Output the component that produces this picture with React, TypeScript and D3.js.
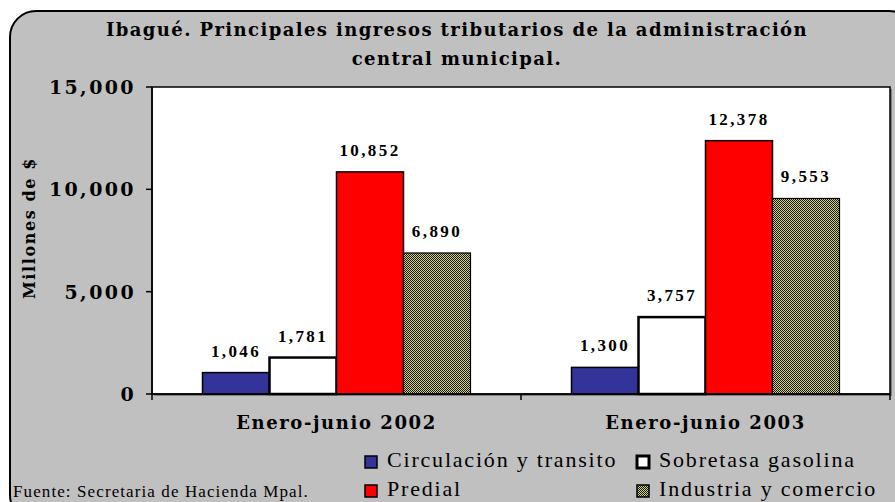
import React from "react";
import * as d3 from "d3";

const categories = ["Enero-junio 2002", "Enero-junio 2003"];
const seriesNames = ["Circulación y transito", "Sobretasa gasolina", "Predial", "Industria y comercio"];
const circulacion = [1046, 1300];
const sobretasa = [1781, 3757];
const predial = [10852, 12378];
const industria = [6890, 9553];
const yTicks = [0, 5000, 10000, 15000];
const titleLines = ["Ibagué. Principales ingresos tributarios de la administración", "central municipal."];
const yTitle = "Millones de $";
const source = "Fuente: Secretaria de Hacienda Mpal.";

const seriesValues = [circulacion, sobretasa, predial, industria];
const fills = ["#333399", "#FFFFFF", "#FF0000", "url(#hatch)"];
const strokeW = [1.5, 2.5, 1.5, 1.2];

const W = 895, H = 502;
const plot = { left: 152, right: 890, top: 87, bottom: 394 };
const serif = "DejaVu Serif, serif";
const times = "Liberation Serif, Times New Roman, serif";

export default function App() {
  const x0 = d3.scaleBand<string>().domain(categories).range([plot.left, plot.right]).paddingInner(0).paddingOuter(0);
  const x1 = d3.scaleBand<string>().domain(seriesNames).range([0, x0.bandwidth()]).paddingInner(0).paddingOuter(0.754);
  const y = d3.scaleLinear().domain([0, 15000]).range([plot.bottom, plot.top]);
  const fmt = d3.format(",");

  const legendItems = [
    { i: 0, x: 365, y: 467 },
    { i: 1, x: 637, y: 467 },
    { i: 2, x: 365, y: 496 },
    { i: 3, x: 637, y: 496 },
  ];

  return (
    <div style={{ position: "fixed", left: 0, top: 0 }}>
      <svg width={W} height={H} style={{ display: "block" }}>
        <defs>
          <pattern id="hatch" width="2" height="2" patternUnits="userSpaceOnUse">
            <rect width="2" height="2" fill="#d0d088" />
            <rect width="1" height="1" fill="#1a1a1a" />
            <rect x="1" y="1" width="1" height="1" fill="#1a1a1a" />
          </pattern>
        </defs>
        <rect x={0} y={0} width={W} height={H} fill="#ffffff" />
        <rect x={10} y={11} width={905} height={510} rx={26} ry={26} fill="#C0C0C0" stroke="#000" strokeWidth={2} />
        {/* title */}
        {titleLines.map((t, i) => (
          <text key={i} x={457} y={36 + i * 29} textAnchor="middle" fontFamily={serif} fontWeight="bold" fontSize={18} letterSpacing={1.4} fill="#000">
            {t}
          </text>
        ))}
        {/* plot area */}
        <rect x={plot.left + 2} y={plot.top + 2} width={plot.right - plot.left} height={plot.bottom - plot.top} fill="#808080" />
        <rect x={plot.left} y={plot.top} width={plot.right - plot.left} height={plot.bottom - plot.top} fill="#fff" stroke="#000" strokeWidth={1.5} />
        {/* bars */}
        {categories.map((c, ci) => (
          <g key={c}>
            {seriesNames.map((s, si) => {
              const v = seriesValues[si][ci];
              const bx = (x0(c) as number) + (x1(s) as number);
              const bw = x1.bandwidth();
              const by = y(v);
              return (
                <g key={s}>
                  <rect x={bx} y={by} width={bw} height={y(0) - by} fill={fills[si]} stroke="#000" strokeWidth={strokeW[si]} />
                  <text x={bx + bw / 2} y={by - 16} textAnchor="middle" fontFamily={times} fontWeight="bold" fontSize={17} letterSpacing={2.4} fill="#000">
                    {fmt(v)}
                  </text>
                </g>
              );
            })}
          </g>
        ))}
        {/* y axis */}
        <line x1={plot.left} x2={plot.left} y1={plot.top} y2={plot.bottom} stroke="#000" strokeWidth={1.5} />
        {yTicks.map((t) => (
          <g key={t}>
            <line x1={plot.left - 6} x2={plot.left} y1={y(t)} y2={y(t)} stroke="#000" strokeWidth={1.5} />
            <text x={plot.left - 16} y={y(t) + 7} textAnchor="end" fontFamily={serif} fontWeight="bold" fontSize={19} letterSpacing={2.4} fill="#000">
              {fmt(t)}
            </text>
          </g>
        ))}
        {/* x axis */}
        <line x1={plot.left} x2={plot.right} y1={plot.bottom} y2={plot.bottom} stroke="#000" strokeWidth={1.5} />
        {[plot.left, ...categories.map((c) => (x0(c) as number) + x0.bandwidth())].map((tx, i) => (
          <line key={i} x1={tx} x2={tx} y1={plot.bottom} y2={plot.bottom + 6} stroke="#000" strokeWidth={1.5} />
        ))}
        {categories.map((c) => (
          <text key={c} x={(x0(c) as number) + x0.bandwidth() / 2} y={429} textAnchor="middle" fontFamily={serif} fontWeight="bold" fontSize={18} letterSpacing={1.6} fill="#000">
            {c}
          </text>
        ))}
        {/* y title */}
        <text transform="translate(35,228) rotate(-90)" textAnchor="middle" fontFamily={serif} fontWeight="bold" fontSize={16} letterSpacing={1.6} fill="#000">
          {yTitle}
        </text>
        {/* legend */}
        {legendItems.map(({ i, x, y: ly }) => (
          <g key={i}>
            <rect x={x} y={ly - 11} width={12} height={12} fill={fills[i]} stroke="#000" strokeWidth={i === 1 ? 3 : 1.5} />
            <text x={x + 22} y={ly} fontFamily={times} fontSize={22} letterSpacing={1.8} fill="#000">
              {seriesNames[i]}
            </text>
          </g>
        ))}
        {/* source */}
        <text x={13} y={497} fontFamily={times} fontSize={17} letterSpacing={1.1} fill="#000">
          {source}
        </text>
      </svg>
    </div>
  );
}
